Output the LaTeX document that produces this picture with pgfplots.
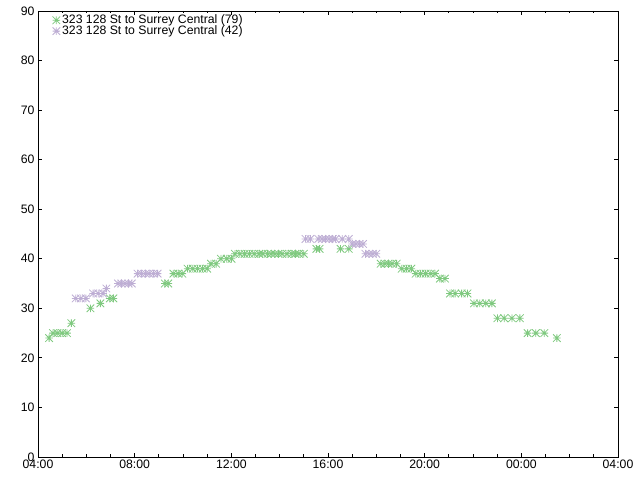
\documentclass[border=0pt]{standalone}
\usepackage{pgfplots}
\pgfplotsset{compat=1.18}
\usepackage{pgfplotstable}
\usepackage{fontspec}
\setmainfont{Liberation Sans}
\usetikzlibrary{calc}

\definecolor{accgreen}{HTML}{7FC97F}
\definecolor{accpurple}{HTML}{BEAED4}

% gnuplot-style 8-arm star
\pgfdeclareplotmark{gstar}{%
  \pgfpathmoveto{\pgfqpoint{-\pgfplotmarksize}{0pt}}\pgfpathlineto{\pgfqpoint{\pgfplotmarksize}{0pt}}%
  \pgfpathmoveto{\pgfqpoint{0pt}{-\pgfplotmarksize}}\pgfpathlineto{\pgfqpoint{0pt}{\pgfplotmarksize}}%
  \pgfpathmoveto{\pgfqpoint{-\pgfplotmarksize}{-\pgfplotmarksize}}\pgfpathlineto{\pgfqpoint{\pgfplotmarksize}{\pgfplotmarksize}}%
  \pgfpathmoveto{\pgfqpoint{-\pgfplotmarksize}{\pgfplotmarksize}}\pgfpathlineto{\pgfqpoint{\pgfplotmarksize}{-\pgfplotmarksize}}%
  \pgfusepathqstroke}

% route 323, 79 trips
\pgfplotstableread{
t y
4.46 24
4.62 25
4.80 25
5.00 25
5.20 25
5.38 27
6.17 30
6.58 31
6.97 32
7.12 32
9.25 35
9.39 35
9.60 37
9.80 37
9.97 37
10.19 38
10.40 38
10.60 38
10.81 38
11.00 38
11.16 39
11.37 39
11.57 40
11.81 40
12.01 40
12.15 41
12.35 41
12.55 41
12.75 41
12.95 41
13.15 41
13.30 41
13.50 41
13.65 41
13.80 41
13.95 41
14.10 41
14.30 41
14.50 41
14.65 41
14.80 41
15.00 41
15.52 42
15.65 42
16.52 42
16.86 42
18.18 39
18.35 39
18.50 39
18.65 39
18.84 39
19.05 38
19.25 38
19.45 38
19.63 37
19.83 37
20.04 37
20.25 37
20.43 37
20.63 36
20.84 36
21.05 33
21.26 33
21.53 33
21.77 33
22.04 31
22.28 31
22.53 31
22.78 31
23.01 28
23.29 28
23.61 28
23.94 28
24.26 25
24.60 25
24.95 25
25.47 24
}\tripsA

% route 323, 42 trips
\pgfplotstableread{
t y
5.56 32
5.77 32
5.98 32
6.28 33
6.49 33
6.69 33
6.83 34
7.31 35
7.45 35
7.60 35
7.75 35
7.88 35
8.12 37
8.28 37
8.45 37
8.60 37
8.78 37
8.95 37
15.07 44
15.27 44
15.60 44
15.76 44
15.90 44
16.05 44
16.20 44
16.31 44
16.59 44
16.86 44
17.00 43
17.15 43
17.30 43
17.45 43
17.55 41
17.70 41
17.85 41
18.00 41
}\tripsB

\begin{document}
\begin{tikzpicture}
\begin{axis}[
    name=ax,
    scale only axis,
    width=580bp, height=446bp,
    xmin=4, xmax=28,
    ymin=0, ymax=90,
    xtick={4,8,12,16,20,24,28},
    xticklabels={04:00,08:00,12:00,16:00,20:00,00:00,04:00},
    minor x tick num=3,
    ytick={0,10,...,90},
    tick align=inside,
    major tick length=4bp,
    minor tick length=2.5bp,
    axis line style={line width=0.8bp},
    every tick/.style={black, line width=0.8bp},
    ticklabel style={font=\fontsize{12.3}{14}\selectfont},
    /pgf/number format/assume math mode=true,
    xticklabel style={yshift=1bp},
    legend style={at={(0.023,0.998)}, anchor=north west, draw=none, fill=none,
        font=\fontsize{12.3}{12}\selectfont, row sep=-3.5bp, inner sep=1bp},
    legend cell align=left,
    legend image code/.code={\draw plot coordinates {(0.12cm,0cm)}; \path (0.12cm,0cm) -- (0.2cm,0cm);},
]
\addplot[only marks, mark=gstar, mark size=3.8bp, color=accgreen, line width=0.8bp]
    table[x=t, y=y] {\tripsA};
\addlegendentry{323 128 St to Surrey Central (79)}
\addplot[only marks, mark=gstar, mark size=3.8bp, color=accpurple, line width=0.8bp]
    table[x=t, y=y] {\tripsB};
\addlegendentry{323 128 St to Surrey Central (42)}
\end{axis}
\path ($(ax.south west)+(-38bp,-23bp)$) rectangle ($(ax.north east)+(22bp,11bp)$);
\end{tikzpicture}
\end{document}
